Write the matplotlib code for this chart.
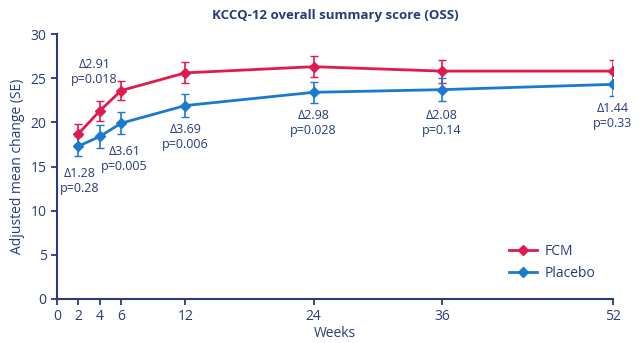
import matplotlib.pyplot as plt
from matplotlib.lines import Line2D

weeks = [2, 4, 6, 12, 24, 36, 52]
fcm = [18.7, 21.3, 23.6, 25.6, 26.3, 25.8, 25.8]
fcm_se = [1.1, 1.1, 1.1, 1.2, 1.2, 1.3, 1.3]
placebo = [17.3, 18.4, 19.9, 21.9, 23.4, 23.7, 24.3]
placebo_se = [1.15, 1.25, 1.25, 1.3, 1.2, 1.3, 1.35]

notes = ['\u03942.91\np=0.018', '\u03941.28\np=0.28', '\u03943.61\np=0.005',
         '\u03943.69\np=0.006', '\u03942.98\np=0.028', '\u03942.08\np=0.14',
         '\u03941.44\np=0.33']
note_x = [3.5, 2.1, 6.3, 12, 24, 36, 52]
note_y = [25.7, 13.4, 15.8, 18.3, 19.9, 19.9, 20.7]

xticks = [0, 2, 4, 6, 12, 24, 36, 52]
yticks = [0, 5, 10, 15, 20, 25, 30]

navy = '#2a3a7c'
red = '#e0194e'
blue = '#1a7ad0'

plt.rcParams['font.family'] = ['Open Sans', 'DejaVu Sans']

fig = plt.figure(figsize=(6.39, 3.43), dpi=100)
ax = fig.add_axes([57/639, 44/343, 556/639, 265/343])

ax.errorbar(weeks, fcm, yerr=fcm_se, color=red, marker='D', markersize=5,
            linewidth=2, capsize=3, elinewidth=1.2, zorder=3)
ax.errorbar(weeks, placebo, yerr=placebo_se, color=blue, marker='D', markersize=5,
            linewidth=2, capsize=3, elinewidth=1.2, zorder=3)

for t, x, y in zip(notes, note_x, note_y):
    ax.text(x, y, t, ha='center', va='center', color=navy, fontsize=9, linespacing=1.2)

ax.set_xlim(0, 52)
ax.set_ylim(0, 30)
ax.set_xticks(xticks)
ax.set_yticks(yticks)
ax.spines['top'].set_visible(False)
ax.spines['right'].set_visible(False)
for s in ['left', 'bottom']:
    ax.spines[s].set_color(navy)
    ax.spines[s].set_linewidth(1.5)
ax.tick_params(colors=navy, labelsize=10, width=1.3, length=4)

ax.set_xlabel('Weeks', color=navy, fontsize=10, labelpad=1)
ax.set_ylabel('Adjusted mean change (SE)', color=navy, fontsize=10)
fig.text(335/639, 1 - 16/343, 'KCCQ-12 overall summary score (OSS)', ha='center', va='center',
         color=navy, fontsize=9.5, fontweight='bold')

handles = [Line2D([], [], color=red, marker='D', markersize=5, linewidth=2),
           Line2D([], [], color=blue, marker='D', markersize=5, linewidth=2)]
leg = ax.legend(handles, ['FCM', 'Placebo'], loc='lower right', bbox_to_anchor=(0.99, 0.02),
                frameon=False, fontsize=10, handlelength=2, labelspacing=0.5, handletextpad=0.5)
for t in leg.get_texts():
    t.set_color(navy)

plt.savefig('out.png', dpi=100)
